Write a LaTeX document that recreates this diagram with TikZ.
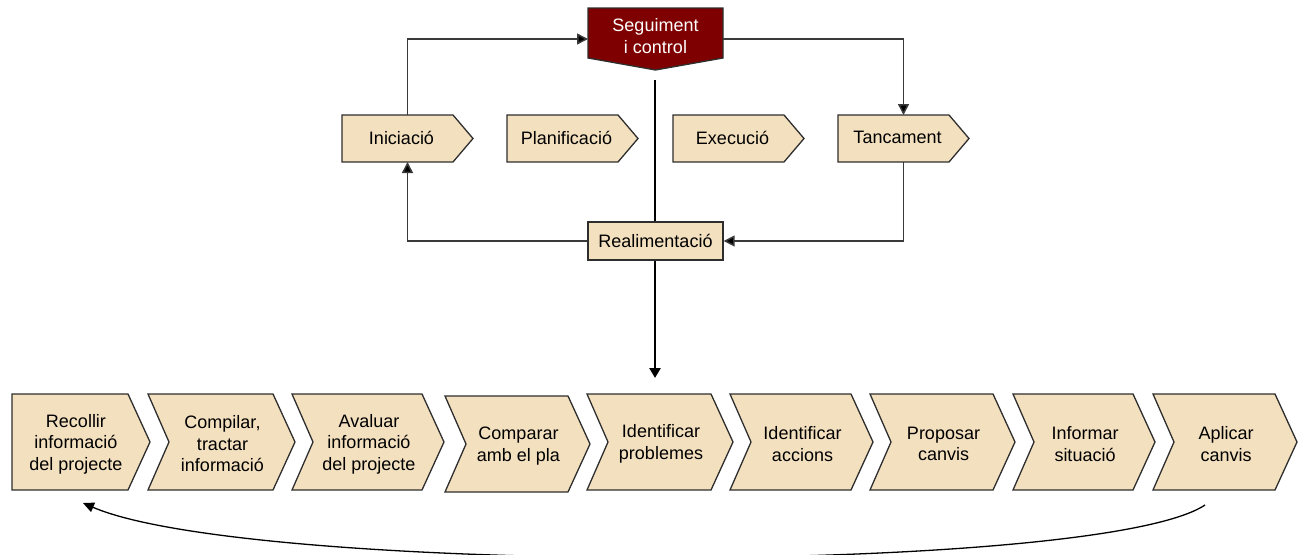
\documentclass[tikz,border=0pt]{standalone}
\usepackage{fontspec}
\setmainfont{Liberation Sans}
\usetikzlibrary{calc,arrows.meta}
\definecolor{boxfill}{HTML}{F3E0BF}
\definecolor{darkred}{HTML}{7F0000}
\definecolor{connc}{HTML}{3A3A3A}
\definecolor{outlc}{HTML}{2E2E2E}
\tikzset{
  hull/.style={draw=none, inner sep=0pt, outer sep=0pt},
  outl/.style={draw=outlc, fill=boxfill, line width=1.3pt, line join=miter},
  lbl/.style={align=center, inner sep=0pt, font=\fontsize{18}{21.5}\selectfont},
  connector/.style={draw=connc, line width=1.5pt, -{Triangle[length=11pt,width=11pt,fill=black]}},
  mainline/.style={draw=black, line width=2.8pt, -{Triangle[length=10pt,width=11pt]}},
  loopline/.style={draw=black, line width=1.3pt, -{Triangle[length=11pt,width=10pt]}}
}
\newcommand\topstep[3]{%
  \node[hull, minimum width=131, minimum height=47] (#1) at (#2+65.5,138.5) {};
  \draw[outl] (#1.north west) -- ++(111,0) -- (#1.east) -- ($(#1.south west)+(111,0)$) -- (#1.south west) -- cycle;
  \node[lbl] (#1-t) at ($(#1.center)+(-6,-1)$) {#3};
}
\newcommand\botstep[5]{%
  \node[hull, minimum width=#3, minimum height=96] (#1) at (#2+#3/2,#4+48) {};
  \draw[outl] (#1.north west) -- ($(#1.north east)+(-22,0)$) -- (#1.east) -- ($(#1.south east)+(-22,0)$) -- (#1.south west) -- ($(#1.west)+(21,0)$) -- cycle;
  \node[lbl] (#1-t) at ($(#1.center)+(1,2)$) {#5};
}
\begin{document}
\begin{tikzpicture}[x=1pt,y=-1pt]
\useasboundingbox (0,0) rectangle (1300,554);
\clip (0,0) rectangle (1300,554);

% top chevrons
\topstep{ini}{342}{Iniciació}
\topstep{pla}{507}{Planificació}
\topstep{exe}{673}{Execució}
\topstep{tan}{838}{Tancament}

% Seguiment i control
\node[hull, minimum width=135, minimum height=50] (seg) at (655.5,33) {};
\draw[fill=darkred, draw=outlc, line width=1.3pt] (seg.north west) -- (seg.north east) -- (seg.south east) -- ($(seg.south)+(0,12)$) -- (seg.south west) -- cycle;
\node[lbl, text=white, font=\fontsize{18}{22}\selectfont] (seg-t) at (655.5,36) {Seguiment\\i control};

% main vertical line
\coordinate (vtop) at (655,80);
\coordinate (vbot) at (655,378);
\draw[mainline] (vtop) -- (vbot);

% Realimentacio
\node[outl, lbl, minimum width=135, minimum height=38] (real) at (655.5,241) {Realimentació};

% connectors
\draw[connector] (ini.north) |- ([yshift=-6pt]seg.west);
\draw[connector] ([yshift=-6pt]seg.east) -| (tan.north);
\draw[connector] (tan.south) |- (real.east);
\draw[connector] (real.west) -| (ini.south);

% bottom steps
\node[hull, minimum width=138, minimum height=96] (b1) at (81,442) {};
\draw[outl] (b1.north west) -- ($(b1.north east)+(-22,0)$) -- (b1.east) -- ($(b1.south east)+(-22,0)$) -- (b1.south west) -- cycle;
\node[lbl] (b1-t) at (76,444) {Recollir\\informació\\del projecte};
\botstep{b2}{148}{147}{394}{Compilar,\\tractar\\informació}
\botstep{b3}{292}{152}{394}{Avaluar\\informació\\del projecte}
\botstep{b4}{445}{145}{396}{Comparar\\amb el pla}
\botstep{b5}{587}{146}{394}{Identificar\\problemes}
\botstep{b6}{730}{143}{394}{Identificar\\accions}
\botstep{b7}{870}{145}{394}{Proposar\\canvis}
\botstep{b8}{1013}{142}{394}{Informar\\situació}
\botstep{b9}{1153}{144}{394}{Aplicar\\canvis}

% loop back curve
\coordinate (cstart) at (1205,505);
\coordinate (cend) at (83,503);
\draw[loopline] (cstart) .. controls (1100,575) and (250,575) .. (cend);
\end{tikzpicture}
\end{document}
